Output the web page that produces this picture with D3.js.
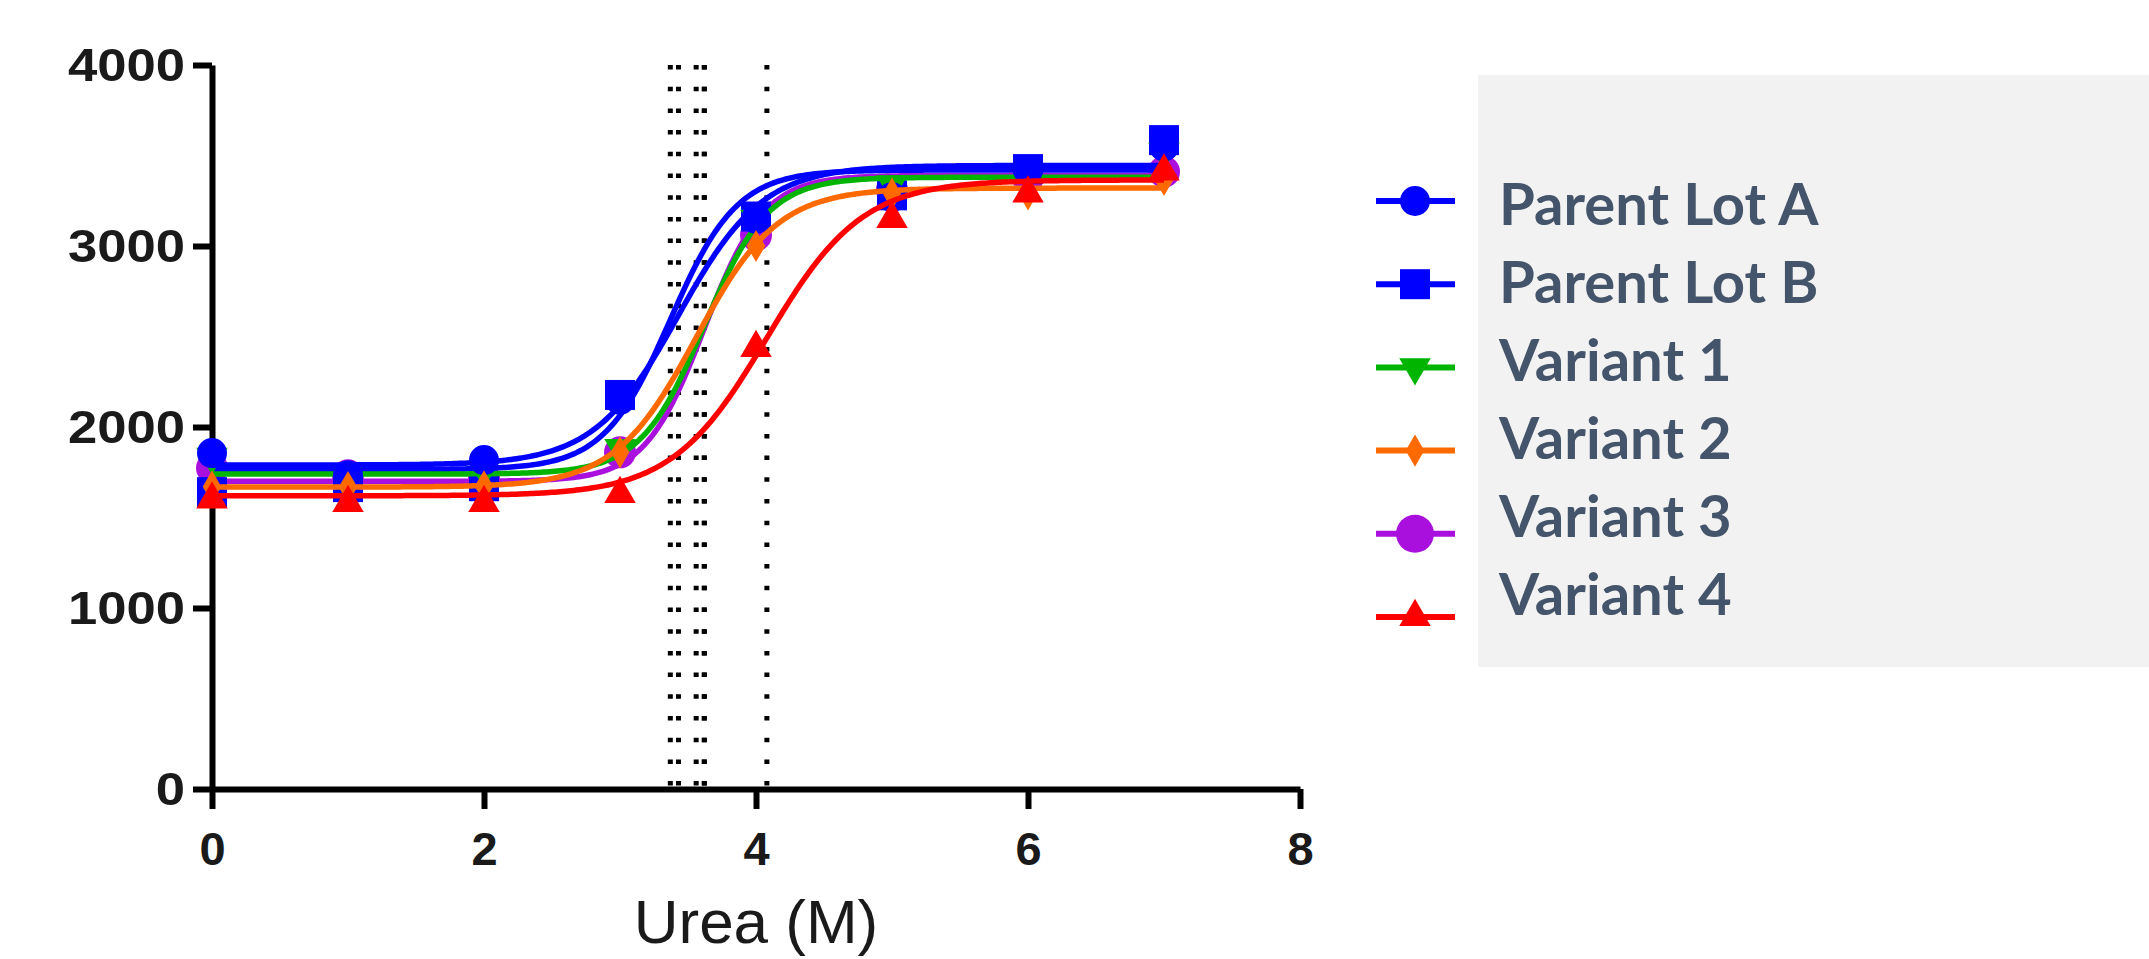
<!DOCTYPE html>
<html><head><meta charset="utf-8">
<script src="https://cdn.jsdelivr.net/npm/d3@7"></script>
<style>html,body{margin:0;padding:0;background:#fff;overflow:hidden}</style>
</head><body>
<svg id="chart" width="2149" height="959"></svg>
<script>
// ---- data ----
const ureaM = [0, 1, 2, 3, 4, 5, 6, 7];
const seriesNames = ["Parent Lot A", "Parent Lot B", "Variant 1", "Variant 2", "Variant 3", "Variant 4"];
const parentLotA = [1856, 1734, 1817, 2150, 3150, 3270, 3420, 3550];
const parentLotB = [1640, 1668, 1673, 2177, 3163, 3280, 3425, 3585];
const variant1   = [1835, 1745, 1760, 1884, 3150, 3340, 3390, 3520];
const variant2   = [1670, 1668, 1672, 1860, 3000, 3290, 3285, 3365];
const variant3   = [1773, 1734, 1720, 1860, 3060, 3310, 3380, 3410];
const variant4   = [1600, 1580, 1580, 1630, 2437, 3150, 3290, 3412];
const fitBottom = [1790, 1765, 1740, 1668, 1700, 1620];
const fitTop    = [3445, 3420, 3380, 3320, 3390, 3365];
const fitV50    = [3.43, 3.37, 3.62, 3.56, 3.62, 4.08];
const fitSlope  = [0.31, 0.245, 0.235, 0.30, 0.22, 0.35];
const xTicks = [0, 2, 4, 6, 8];
const yTicks = [0, 1000, 2000, 3000, 4000];
const xTitle = "Urea (M)";

const seriesValues = [parentLotA, parentLotB, variant1, variant2, variant3, variant4];
const colors = ["#0000ff", "#0000ff", "#00b400", "#ff6a00", "#aa10dd", "#ff0000"];
const shapes = ["circle", "square", "triDown", "diamond", "bigCircle", "triUp"];

const svg = d3.select("#chart");
const x = d3.scaleLinear().domain([0, 8]).range([212, 1300]);
const y = d3.scaleLinear().domain([0, 4000]).range([789, 65]);

function symbolPath(shape, legend) {
  switch (shape) {
    case "circle": return d3.symbol(d3.symbolCircle, Math.PI * 15 * 15)();
    case "bigCircle": return d3.symbol(d3.symbolCircle, Math.PI * (legend ? 19 : 16) ** 2)();
    case "square": return d3.symbol(d3.symbolSquare, 30 * 30)();
    case "triUp": return d3.symbol(d3.symbolTriangle, 430)();
    case "triDown": return d3.symbol(d3.symbolTriangle, 430)();
    case "diamond": return d3.symbol(d3.symbolDiamond, 300)();
  }
}
function symbolTransform(shape, px, py) {
  return shape === "triDown" ? `translate(${px},${py}) rotate(180)` : `translate(${px},${py})`;
}

// dotted V50 lines
const vg = svg.append("g");
fitV50.forEach(v => {
  vg.append("line")
    .attr("x1", x(v)).attr("x2", x(v))
    .attr("y1", y(4000)).attr("y2", y(0))
    .attr("stroke", "#000").attr("stroke-width", 5)
    .attr("stroke-dasharray", "4.5,17.2");
});

// axes
const axisFont = "'Liberation Sans', Arial, sans-serif";
const yAxis = svg.append("g").attr("transform", `translate(${x(0)},0)`)
  .call(d3.axisLeft(y).tickValues(yTicks).tickSize(19).tickSizeOuter(0).tickPadding(8).tickFormat(d3.format("d")));
const xAxis = svg.append("g").attr("transform", `translate(0,${y(0)})`)
  .call(d3.axisBottom(x).tickValues(xTicks).tickSize(20).tickSizeOuter(0).tickPadding(23).tickFormat(d3.format("d")));
[yAxis, xAxis].forEach(a => {
  a.select(".domain").attr("stroke", "#000").attr("stroke-width", 6);
  a.selectAll(".tick line").attr("stroke", "#000").attr("stroke-width", 6);
  a.selectAll(".tick text").attr("fill", "#1a1a1a").style("font-family", axisFont)
    .style("font-weight", "bold").style("font-size", "47px");
});
// y tick labels are slightly wider in the reference
yAxis.selectAll(".tick text").each(function () {
  const w = this.getComputedTextLength();
  d3.select(this).attr("textLength", w * 1.12).attr("lengthAdjust", "spacingAndGlyphs");
});

svg.append("text").attr("x", x(4)).attr("y", 943).attr("text-anchor", "middle")
  .style("font-family", axisFont).style("font-size", "62px").attr("fill", "#1a1a1a").text(xTitle);

// series: curves + markers (drawing order as in reference)
const order = [4, 1, 2, 0, 3, 5];
const line = d3.line().x(d => x(d[0])).y(d => y(d[1]));
const grid = d3.range(0, 7.0001, 0.02);
order.forEach(i => {
  const g = svg.append("g");
  const curve = grid.map(t => [t, fitBottom[i] + (fitTop[i] - fitBottom[i]) / (1 + Math.exp((fitV50[i] - t) / fitSlope[i]))]);
  g.append("path").datum(curve).attr("d", line).attr("fill", "none")
    .attr("stroke", colors[i]).attr("stroke-width", 5.5);
  g.selectAll("path.pt").data(ureaM.map((u, k) => [u, seriesValues[i][k]])).join("path")
    .attr("class", "pt")
    .attr("d", symbolPath(shapes[i], false))
    .attr("transform", d => symbolTransform(shapes[i], x(d[0]), y(d[1])))
    .attr("fill", colors[i]);
});

// legend
svg.append("rect").attr("x", 1478).attr("y", 75).attr("width", 671).attr("height", 592).attr("fill", "#f2f2f2");
const markerY = d3.scaleLinear().domain([0, 5]).range([201, 617]);
const textY = d3.scaleLinear().domain([0, 5]).range([225, 615]);
seriesNames.forEach((name, i) => {
  const my = markerY(i);
  svg.append("line").attr("x1", 1376).attr("x2", 1455).attr("y1", my).attr("y2", my)
    .attr("stroke", colors[i]).attr("stroke-width", 6);
  svg.append("path").attr("d", symbolPath(shapes[i], true))
    .attr("transform", symbolTransform(shapes[i], 1415, my)).attr("fill", colors[i]);
  svg.append("text").attr("x", 1499).attr("y", textY(i))
    .style("font-family", "Lato, 'Open Sans', sans-serif").style("font-weight", "bold")
    .style("font-size", "58px").attr("fill", "#44546a").text(name);
});
</script>
</body></html>
